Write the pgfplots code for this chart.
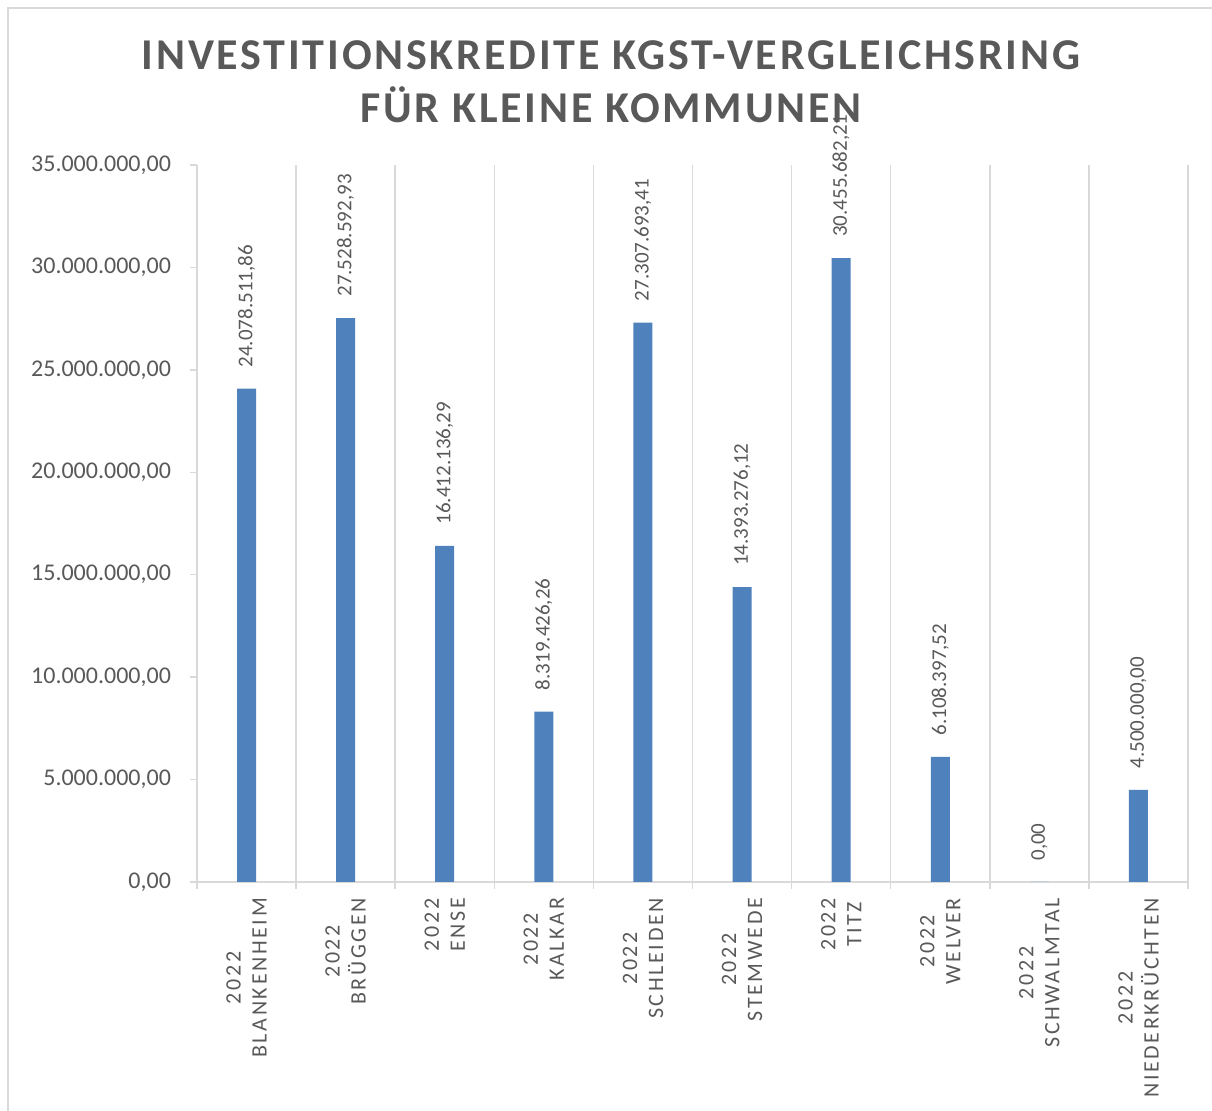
\documentclass[border=0pt]{standalone}
\usepackage{fontspec}
\setmainfont{Carlito}
\newfontfamily\titlefont[LetterSpace=6.3]{Carlito}
\newfontfamily\catfont[LetterSpace=12]{Carlito}
\usepackage{pgfplots}
\usepackage{pgfplotstable}
\pgfplotsset{compat=1.18}

\definecolor{barblue}{HTML}{4F81BD}
\definecolor{gridgray}{HTML}{D9D9D9}
\definecolor{textgray}{HTML}{595959}

% Investitionskredite 2022, Euro
\pgfplotstableread{
x y label
0 24078511.86 24.078.511,86
1 27528592.93 27.528.592,93
2 16412136.29 16.412.136,29
3 8319426.26 8.319.426,26
4 27307693.41 27.307.693,41
5 14393276.12 14.393.276,12
6 30455682.21 30.455.682,21
7 6108397.52 6.108.397,52
8 0 0,00
9 4500000 4.500.000,00
}\kredite

\begin{document}
\begin{tikzpicture}
\path[use as bounding box] (0,0) rectangle (606pt,555.5pt);
\draw[gridgray, line width=1pt] (3.75pt,0) -- (3.75pt,551.5pt) -- (606pt,551.5pt);

\begin{axis}[
    at={(98.5pt,114.5pt)}, anchor=south west,
    scale only axis,
    width=495.5pt, height=358.5pt,
    ybar, bar width=9.5pt,
    xmin=-0.5, xmax=9.5,
    ymin=0, ymax=35000000,
    ytick={0,5000000,...,35000000},
    scaled y ticks=false,
    xtick={0,...,9},
    xticklabels={
        {2022\\BLANKENHEIM},{2022\\BRÜGGEN},{2022\\ENSE},{2022\\KALKAR},
        {2022\\SCHLEIDEN},{2022\\STEMWEDE},{2022\\TITZ},{2022\\WELVER},
        {2022\\SCHWALMTAL},{2022\\NIEDERKRÜCHTEN}},
    minor xtick={-0.5,0.5,...,9.5},
    xminorgrids,
    minor grid style={draw=gridgray, line width=0.75pt},
    axis x line*=bottom, axis y line*=left,
    axis line style={-, draw=gridgray, line width=0.75pt},
    tick align=outside,
    major tick length=3.5pt, minor tick length=3.5pt,
    major x tick style={draw=none},
    minor x tick style={draw=gridgray, line width=0.75pt},
    ytick style={draw=gridgray, line width=0.75pt},
    xticklabel style={rotate=90, anchor=east, align=center,
        font=\catfont\fontsize{11}{13}\selectfont, text=textgray},
    xticklabel shift=1pt,
    yticklabel style={font=\fontsize{12}{14}\selectfont, text=textgray,
        /pgf/number format/.cd, fixed, fixed zerofill, precision=2,
        use comma, 1000 sep={.}, assume math mode=true},
    yticklabel shift=6pt,
    clip=false,
]
\addplot[fill=barblue, draw=none,
    nodes near coords, point meta=explicit symbolic,
    every node near coord/.append style={rotate=90, anchor=west,
        inner xsep=10.5pt, inner ysep=0pt,
        font=\fontsize{10.5}{12}\selectfont, text=textgray}]
    table[x=x, y=y, meta=label] {\kredite};
\end{axis}

\node[anchor=base, text=textgray, font=\titlefont\bfseries\fontsize{22}{26.5}\selectfont]
    at (305.5pt,520.5pt) {INVESTITIONSKREDITE KGST-VERGLEICHSRING};
\node[anchor=base, text=textgray, font=\titlefont\bfseries\fontsize{22}{26.5}\selectfont]
    at (305.5pt,494pt) {FÜR KLEINE KOMMUNEN};
\end{tikzpicture}
\end{document}
